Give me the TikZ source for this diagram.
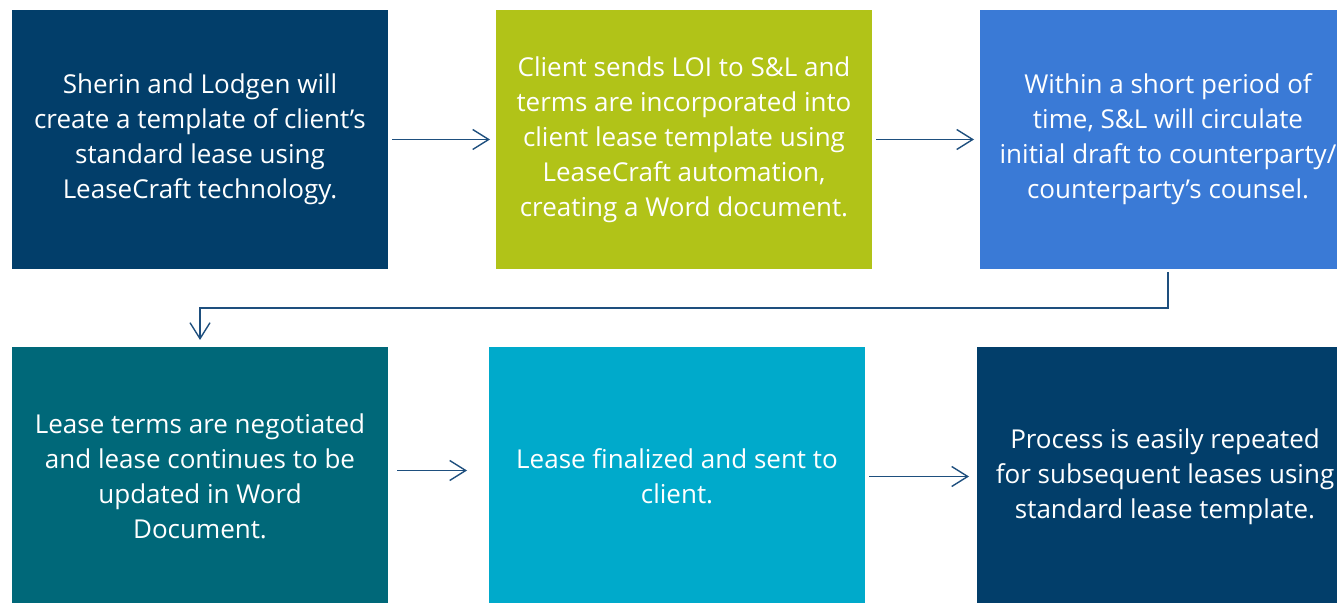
\documentclass[tikz,border=0pt]{standalone}
\usepackage{fontspec}
\setmainfont{Open Sans}
\usetikzlibrary{positioning, arrows.meta}

\definecolor{leasenavy}{RGB}{2,62,106}
\definecolor{leaselime}{RGB}{177,195,24}
\definecolor{leaseblue}{RGB}{58,122,214}
\definecolor{leaseteal}{RGB}{0,104,121}
\definecolor{leasecyan}{RGB}{0,170,203}
\definecolor{leasearrow}{RGB}{30,79,126}

\begin{document}
\begin{tikzpicture}[
    x=1pt, y=1pt,
    every node/.style={font=\fontsize{26}{35}\selectfont},
    stage/.style={rectangle, outer sep=0pt, minimum width=376pt, minimum height=259pt, text=white, align=center},
    arrow/.style={-{Straight Barb[length=16pt, width=20pt]}, line width=1.4pt, leasearrow},
]
\useasboundingbox (0,0) rectangle (1337,602);

% First row
\node[stage, fill=leasenavy] (create) at (200,462.5) {Sherin and Lodgen will\\create a template of client’s\\standard lease using\\LeaseCraft technology.};
\node[stage, fill=leaselime, right=108pt of create] (loi) {Client sends LOI to S\&L and\\terms are incorporated into\\client lease template using\\LeaseCraft automation,\\creating a Word document.};
\node[stage, fill=leaseblue, right=108pt of loi] (draft) {Within a short period of\\time, S\&L will circulate\\initial draft to counterparty/\\counterparty’s counsel.};

% Second row
\node[stage, fill=leaseteal, below=78pt of create] (negotiate) {Lease terms are negotiated\\and lease continues to be\\updated in Word\\Document.};
\node[stage, fill=leasecyan, right=101pt of negotiate] (final) {Lease finalized and sent to\\client.};
\node[stage, fill=leasenavy, right=112pt of final] (repeat) {Process is easily repeated\\for subsequent leases using\\standard lease template.};

% Arrows
\draw[arrow] ([xshift=4pt]create.east) -- ([xshift=-6pt]loi.west);
\draw[arrow] ([xshift=4pt]loi.east) -- ([xshift=-6pt]draft.west);
\draw[arrow] ([yshift=-3pt]draft.south) -- ++(0,-36) -| ([yshift=7pt]negotiate.north);
\draw[arrow] ([xshift=9pt, yshift=6pt]negotiate.east) -- ([xshift=-22pt, yshift=6pt]final.west);
\draw[arrow] ([xshift=4pt]final.east) -- ([xshift=-8pt]repeat.west);

\end{tikzpicture}
\end{document}
